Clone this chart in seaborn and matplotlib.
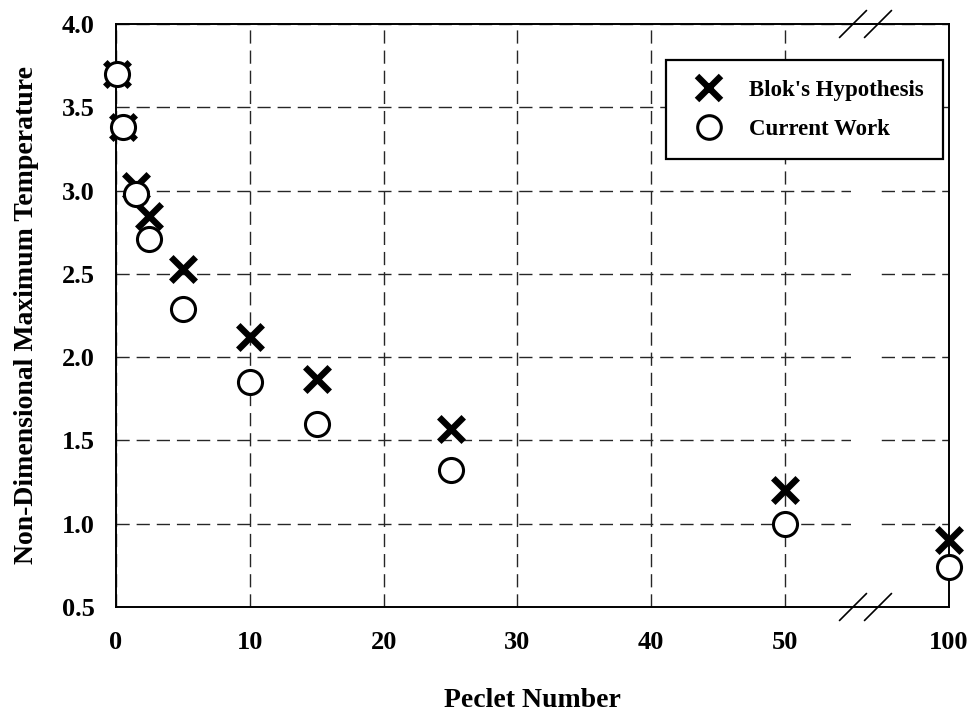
import numpy as np
import pandas as pd
import matplotlib
matplotlib.use("Agg")
import matplotlib.pyplot as plt
from matplotlib.lines import Line2D
from matplotlib.patches import Rectangle
import seaborn as sns

# Peclet numbers and non-dimensional maximum temperatures
peclet = [0.1, 0.5, 1.5, 2.5, 5, 10, 15, 25, 50, 100]
blok = [3.70, 3.38, 3.03, 2.85, 2.53, 2.12, 1.87, 1.57, 1.20, 0.90]
current = [3.70, 3.38, 2.98, 2.71, 2.29, 1.85, 1.60, 1.32, 1.00, 0.74]

x_ticks = [0, 10, 20, 30, 40, 50, 100]
y_ticks = [0.5, 1.0, 1.5, 2.0, 2.5, 3.0, 3.5, 4.0]
series_names = ["Blok's Hypothesis", "Current Work"]

df_blok = pd.DataFrame({"Pe": peclet, "T": blok})
df_curr = pd.DataFrame({"Pe": peclet, "T": current})

sns.set_theme(style="white")
plt.rcParams["font.family"] = ["Liberation Serif", "DejaVu Serif"]
plt.rcParams["font.weight"] = "bold"
plt.rcParams["text.color"] = "black"
plt.rcParams["axes.labelcolor"] = "black"

# broken x axis: linear up to 50, compressed between 50 and 100
K = 0.245


def fwd(x):
    x = np.asarray(x, dtype=float)
    return np.where(x <= 50, x, 50 + (x - 50) * K)


def inv(y):
    y = np.asarray(y, dtype=float)
    return np.where(y <= 50, y, 50 + (y - 50) / K)


fig = plt.figure(figsize=(9.77, 7.13), dpi=100)
ax = fig.add_axes([116 / 977, 1 - 607 / 713, (949 - 116) / 977, (607 - 24) / 713])
ax.set_xscale("function", functions=(fwd, inv))

sns.scatterplot(data=df_blok, x="Pe", y="T", ax=ax, marker="x", s=310,
                color="black", linewidths=4.6, zorder=3, legend=False)
ax.collections[-1].set_clip_on(False)
sns.scatterplot(data=df_curr, x="Pe", y="T", ax=ax, marker="o", s=300,
                facecolor="white", edgecolor="black", linewidth=2.2,
                zorder=4, legend=False)
ax.collections[-1].set_clip_on(False)

ax.set_xlim(0, 100)
ax.set_ylim(0.5, 4.0)
ax.set_xticks(x_ticks)
ax.set_xticklabels([str(t) for t in x_ticks])
ax.set_yticks(y_ticks)
ax.set_yticklabels([f"{t:.1f}" for t in y_ticks])

ax.set_axisbelow(True)
ax.grid(True, color="0.15", linewidth=1.0, linestyle=(0, (9.5, 5)))

for sp in ax.spines.values():
    sp.set_visible(True)
    sp.set_color("black")
    sp.set_linewidth(1.4)

ax.tick_params(axis="both", direction="inout", length=11, width=1.2,
               color="black", labelsize=19, labelcolor="black")
ax.tick_params(axis="x", pad=12)
ax.tick_params(axis="y", pad=10)

ax.set_xlabel("Peclet Number", fontsize=20, fontweight="bold", labelpad=24)
ax.set_ylabel("Non-Dimensional Maximum Temperature", fontsize=20,
              fontweight="bold", labelpad=16)

# gap in the gridlines across the axis break
x0, x1 = (851 - 116) / 833, (877 - 116) / 833
ax.add_patch(Rectangle((x0, 0.002), x1 - x0, 0.996, transform=ax.transAxes,
                       facecolor="white", edgecolor="none", zorder=1))

# double-slash break marks on top and bottom spines
dx, dy = 13.5 / 833, 13.5 / 583
for cx in ((853 - 116) / 833, (878 - 116) / 833):
    for cy in (0.0, 1.0):
        ax.plot([cx - dx, cx + dx], [cy - dy, cy + dy], transform=ax.transAxes,
                color="black", linewidth=1.2, clip_on=False, zorder=5)

handles = [
    Line2D([], [], linestyle="none", marker="x", markersize=17,
           markeredgewidth=4.6, color="black"),
    Line2D([], [], linestyle="none", marker="o", markersize=17,
           markerfacecolor="white", markeredgecolor="black",
           markeredgewidth=2.2),
]
leg = ax.legend(handles, series_names, loc="upper right",
                bbox_to_anchor=((943 - 116) / 833, (607 - 60) / 583),
                fontsize=16.5, frameon=True, fancybox=False, framealpha=1,
                edgecolor="black", borderpad=0.85, handletextpad=0.75,
                labelspacing=0.8, borderaxespad=0)
leg.get_frame().set_linewidth(1.6)
leg.set_zorder(6)
for t in leg.get_texts():
    t.set_fontweight("bold")
    t.set_color("black")

fig.savefig("out.png", dpi=100)
